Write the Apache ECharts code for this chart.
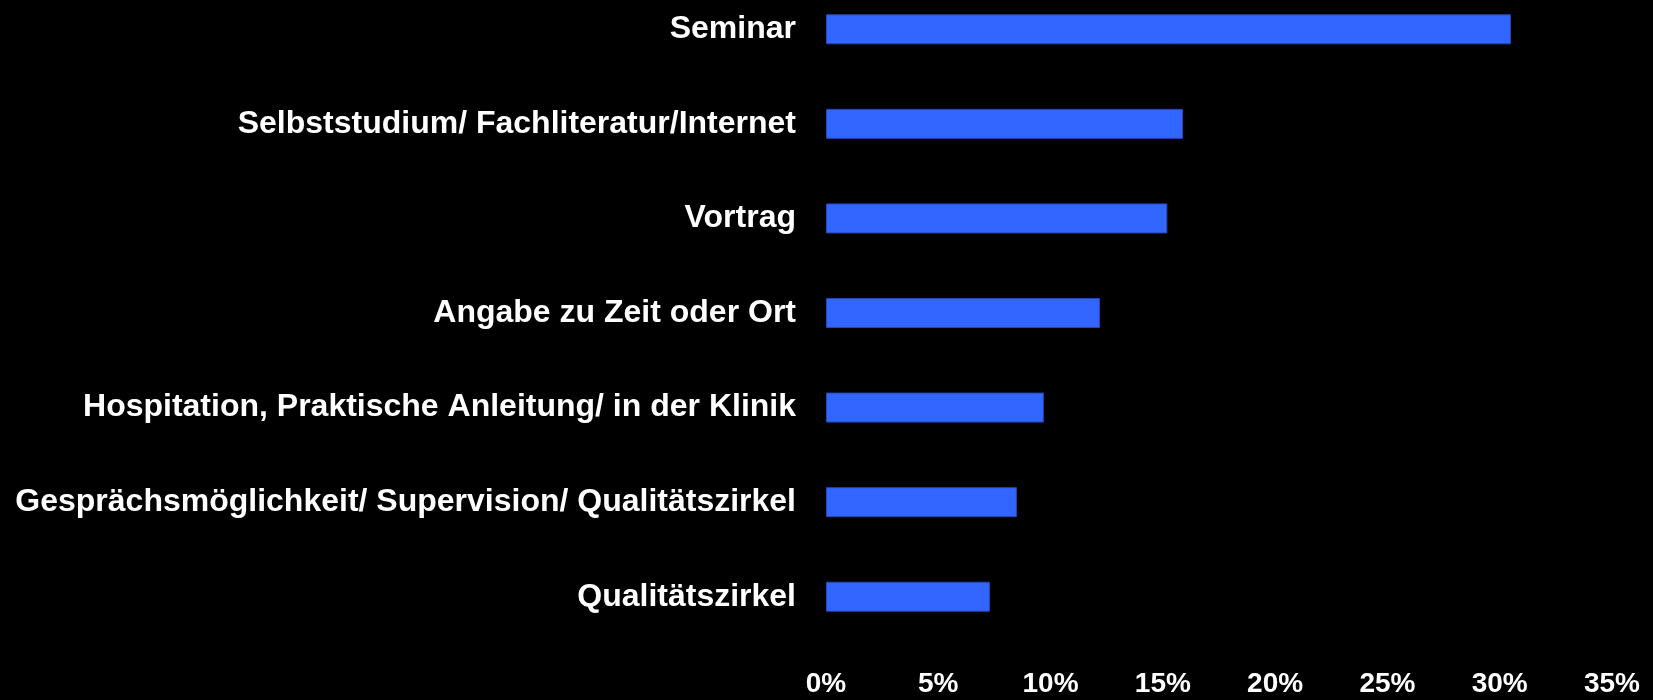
<!DOCTYPE html>
<html>
<head>
<meta charset="utf-8">
<title>Weiterbildung</title>
<script src="https://cdn.jsdelivr.net/npm/echarts@6/dist/echarts.min.js"></script>
<style>
  html, body { margin: 0; padding: 0; background: #000; overflow: hidden; }
  /* chart is a bit taller and pulled up so the top band sits above the page edge */
  #chart-box { width: 1653px; height: 718px; margin-top: -18px; }
</style>
</head>
<body>
<div id="chart-box"></div>
<script>
// categories, top to bottom
const categories = [
  'Seminar',
  'Selbststudium/ Fachliteratur/Internet',
  'Vortrag',
  'Angabe zu Zeit oder Ort',
  'Hospitation, Praktische Anleitung/ in der Klinik',
  'Gesprächsmöglichkeit/ Supervision/ Qualitätszirkel',
  'Qualitätszirkel'
];
// percent values
const values = [30.5, 15.9, 15.2, 12.2, 9.7, 8.5, 7.3];

const axisMin = 0;
const axisMax = 35;
const axisStep = 5;

const chartEle = document.querySelector('#chart-box');
const myChart = echarts.init(chartEle);

const option = {
  backgroundColor: '#000000',
  animation: false,
  grid: {
    left: 826,
    right: 41,
    top: 0,
    bottom: 56,
    containLabel: false
  },
  xAxis: {
    type: 'value',
    min: axisMin,
    max: axisMax,
    interval: axisStep,
    axisLine: { show: false },
    axisTick: { show: false },
    splitLine: { show: false },
    axisLabel: {
      formatter: '{value}%',
      color: '#ffffff',
      fontFamily: 'Liberation Sans, Arial, sans-serif',
      fontWeight: 'bold',
      fontSize: 28,
      margin: 26
    }
  },
  yAxis: {
    type: 'category',
    data: categories,
    inverse: true,
    axisLine: { show: false },
    axisTick: { show: false },
    splitLine: { show: false },
    axisLabel: {
      color: '#ffffff',
      fontFamily: 'Liberation Sans, Arial, sans-serif',
      fontWeight: 'bold',
      fontSize: 32,
      margin: 30
    }
  },
  series: [{
    type: 'bar',
    data: values,
    barWidth: 30,
    itemStyle: {
      color: '#3366ff',
      borderColor: '#2347b8',
      borderWidth: 1
    }
  }]
};

myChart.setOption(option);
</script>
</body>
</html>
